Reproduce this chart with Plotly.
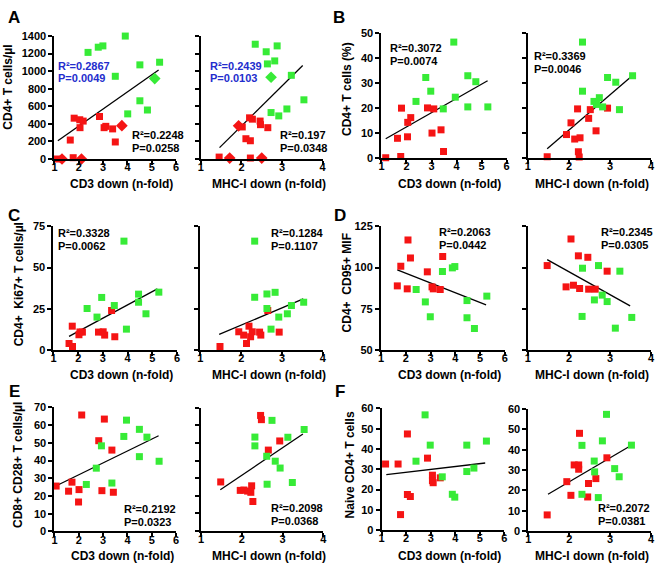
import plotly.graph_objects as go

W, H = 661, 571
FONT = "Liberation Sans, Arial, Helvetica, sans-serif"
RED = "rgb(245,20,20)"
GREEN = "rgb(55,235,55)"
BLUE = "rgb(35,45,205)"

# ---------------- Panel A : CD4+ T cells/ul ----------------
A1_green_x = [2.38, 2.80, 2.99, 3.91, 3.50, 4.51, 5.32, 4.51, 4.82, 4.01]
A1_green_y = [1214, 1273, 1288, 1400, 942, 1072, 1102, 663, 558, 514]
A1_greend_x = [5.12]
A1_greend_y = [916]
A1_red_x = [1.81, 2.04, 2.18, 2.05, 1.65, 2.85, 3.04, 3.11, 3.39, 3.50, 1.12, 1.77]
A1_red_y = [465, 447, 432, 357, 216, 484, 357, 372, 343, 194, 0, 15]
A1_redd_x = [3.77, 1.31, 2.11]
A1_redd_y = [380, 0, 0]
A1_fit_x = [1.14, 5.28]
A1_fit_y = [208, 1013]

A2_green_x = [2.36, 2.34, 2.61, 2.88, 2.64, 2.82, 3.23, 3.54, 3.12, 2.73, 2.92]
A2_green_y = [1415, 1307, 1221, 1288, 1083, 1117, 953, 674, 570, 529, 491]
A2_greend_x = [2.73]
A2_greend_y = [931]
A2_red_x = [2.20, 2.27, 2.46, 2.47, 2.65, 2.02, 2.11, 2.22, 1.45, 2.22]
A2_red_y = [469, 454, 432, 391, 357, 365, 231, 208, 22, 11]
A2_redd_x = [1.93, 1.71, 2.50]
A2_redd_y = [378, 11, 11]
A2_fit_x = [1.46, 3.51]
A2_fit_y = [130, 1065]

# ---------------- Panel B : CD4+ T cells (%) ----------------
B1_green_x = [2.38, 2.77, 2.97, 3.89, 3.47, 3.95, 4.45, 4.77, 4.45, 5.25]
B1_green_y = [22.6, 32.2, 26.7, 46.4, 19.6, 24.3, 32.9, 30.5, 20.4, 20.4]
B1_red_x = [1.80, 2.17, 2.05, 2.04, 1.64, 2.84, 3.09, 3.02, 3.38, 3.48, 1.17, 1.77]
B1_red_y = [19.9, 16.1, 14.2, 8.4, 7.8, 20.0, 19.6, 9.9, 11.2, 2.5, 0.0, 0.5]
B1_fit_x = [1.17, 5.24]
B1_fit_y = [7.6, 30.9]

B2_green_x = [2.33, 2.33, 2.61, 2.74, 2.67, 2.82, 2.94, 3.14, 3.55, 3.23]
B2_green_y = [46.4, 26.7, 22.6, 24.1, 21.4, 20.4, 32.2, 30.3, 32.9, 19.3]
B2_red_x = [2.21, 2.05, 1.94, 2.14, 2.27, 2.48, 2.52, 2.66, 2.94, 2.23, 2.25, 1.47]
B2_red_y = [19.6, 14.0, 9.3, 7.5, 8.0, 15.8, 19.3, 10.8, 19.9, 2.4, 0.3, 0.4]
B2_fit_x = [1.47, 3.52]
B2_fit_y = [3.6, 32.6]

# ---------------- Panel C : CD4+ Ki67+ T cells/ul ----------------
C1_green_x = [3.85, 2.36, 2.76, 2.95, 3.46, 4.44, 4.44, 5.26, 4.74, 3.95]
C1_green_y = [66.0, 25.2, 20.0, 31.9, 27.0, 33.9, 29.0, 35.1, 22.0, 12.7]
C1_red_x = [1.76, 1.63, 1.77, 2.07, 2.17, 2.03, 2.82, 3.01, 3.07, 3.35, 3.48]
C1_red_y = [14.5, 4.0, 2.2, 11.0, 10.9, 9.3, 10.9, 11.1, 9.1, 24.0, 8.1]
C1_fit_x = [1.63, 5.20]
C1_fit_y = [8.3, 37.1]

C2_green_x = [2.33, 2.33, 2.63, 2.83, 2.63, 3.23, 3.53, 3.13, 2.92, 2.73]
C2_green_y = [66.0, 32.0, 34.0, 35.0, 25.2, 27.0, 29.0, 22.0, 20.0, 12.7]
C2_red_x = [2.19, 1.94, 2.06, 2.23, 2.27, 2.45, 2.48, 2.65, 2.93, 2.13, 1.48]
C2_red_y = [14.5, 11.1, 9.1, 8.1, 11.1, 10.9, 9.1, 24.0, 10.9, 4.0, 2.2]
C2_fit_x = [1.46, 3.52]
C2_fit_y = [9.5, 31.0]

# ---------------- Panel D : CD4+ CD95+ MIF ----------------
D1_red_x = [2.09, 1.80, 2.19, 1.66, 2.06, 2.87, 3.06, 3.11, 3.39, 3.49]
D1_red_y = [116.7, 100.8, 105.8, 88.9, 87.1, 97.4, 88.3, 87.1, 86.7, 106.7]
D1_green_x = [2.42, 2.79, 2.99, 3.48, 3.88, 3.98, 4.47, 4.47, 4.77, 5.27]
D1_green_y = [86.7, 79.2, 70.2, 97.6, 99.8, 100.6, 80.0, 69.6, 63.1, 82.7]
D1_fit_x = [1.66, 5.24]
D1_fit_y = [98.6, 77.4]

D2_red_x = [2.05, 1.47, 2.23, 2.46, 1.93, 2.11, 2.26, 2.48, 2.64, 2.93]
D2_red_y = [117.3, 101.2, 107.1, 106.2, 88.3, 89.3, 87.3, 86.9, 86.9, 97.8]
D2_green_x = [2.33, 2.72, 3.24, 2.81, 2.62, 2.93, 2.32, 3.53, 3.13]
D2_green_y = [99.6, 101.2, 97.8, 83.3, 80.4, 79.4, 70.4, 69.8, 63.3]
D2_fit_x = [1.47, 3.49]
D2_fit_y = [104.8, 76.8]

# ---------------- Panel E : CD8+ CD28+ T cells/ul ----------------
E1_red_x = [2.12, 3.05, 2.82, 3.36, 1.07, 1.72, 1.58, 2.01, 1.99, 2.95, 3.42]
E1_red_y = [65.7, 63.4, 51.2, 45.9, 25.6, 27.8, 22.7, 23.6, 16.6, 23.0, 22.1]
E1_green_x = [3.96, 4.49, 4.80, 3.85, 2.93, 4.49, 5.30, 2.72, 2.31, 3.36]
E1_green_y = [62.8, 57.6, 53.2, 53.6, 48.3, 42.2, 39.6, 35.7, 26.5, 27.3]
E1_fit_x = [1.14, 5.28]
E1_fit_y = [26.2, 54.0]

E2_red_x = [2.46, 2.48, 2.93, 2.65, 1.48, 1.96, 2.05, 2.14, 2.24, 2.22, 2.27]
E2_red_y = [65.7, 63.3, 51.2, 46.0, 27.9, 23.1, 23.3, 22.7, 25.7, 22.0, 16.8]
E2_green_x = [2.74, 2.32, 2.32, 3.13, 3.53, 2.61, 2.82, 2.94, 2.62, 3.24]
E2_green_y = [62.9, 53.4, 48.4, 53.3, 57.7, 42.5, 39.7, 35.8, 26.6, 27.6]
E2_fit_x = [1.47, 3.50]
E2_fit_y = [23.5, 55.1]

# ---------------- Panel F : Naive CD4+ T cells ----------------
F1_red_x = [1.16, 1.67, 2.05, 2.05, 2.17, 1.77, 2.87, 3.07, 3.07, 3.10, 3.39]
F1_red_y = [32.6, 32.6, 47.4, 17.6, 16.6, 7.7, 35.5, 27.1, 24.4, 23.4, 25.8]
F1_green_x = [2.77, 2.98, 2.40, 3.47, 3.88, 3.98, 4.47, 4.47, 4.76, 5.27]
F1_green_y = [56.8, 41.9, 34.0, 26.3, 17.7, 16.3, 41.9, 28.9, 30.6, 43.9]
F1_fit_x = [1.19, 5.22]
F1_fit_y = [27.4, 33.1]

F2_red_x = [1.46, 1.94, 2.04, 2.25, 2.12, 2.23, 2.23, 2.47, 2.45, 2.65, 2.92]
F2_red_y = [8.0, 24.3, 17.6, 48.0, 32.5, 32.5, 30.4, 23.4, 16.8, 25.8, 36.0]
F2_green_x = [2.91, 2.81, 2.31, 3.52, 2.61, 2.62, 3.11, 3.22, 2.31, 2.71]
F2_green_y = [57.3, 44.3, 42.1, 42.2, 34.4, 29.1, 30.7, 26.7, 18.1, 16.5]
F2_fit_x = [1.48, 3.50]
F2_fit_y = [18.1, 41.9]

# tick values
X_TICKS_CD3 = [1, 2, 3, 4, 5, 6]
X_TICKS_MHC = [1, 2, 3, 4]
Y_TICKS_A = [0, 200, 400, 600, 800, 1000, 1200, 1400]
Y_TICKS_B = [0, 10, 20, 30, 40, 50]
Y_TICKS_C = [0, 25, 50, 75]
Y_TICKS_D = [50, 75, 100, 125]
Y_TICKS_E = [0, 10, 20, 30, 40, 50, 60, 70]
Y_TICKS_F = [0, 10, 20, 30, 40, 50, 60]

# Y axis titles, x axis titles, panel letters
Y_TITLES = ["CD4+ T cells/\u00b5l", "CD4+ T cells (%)", "CD4+\u00a0\u00a0Ki67+ T cells/\u00b5l",
            "CD4+\u00a0\u00a0CD95+ MIF", "CD8+ CD28+ T cells/\u00b5l", "Naive CD4+ T cells"]
X_TITLE_CD3 = "CD3 down (n-fold)"
X_TITLE_MHC = "MHC-I down (n-fold)"
PANEL_LETTERS = ["A", "B", "C", "D", "E", "F"]

# statistics text
STATS = [
    ("A1", "0.2867", "0.0049", "blue"), ("A1", "0.2248", "0.0258", "black"),
    ("A2", "0.2439", "0.0103", "blue"), ("A2", "0.197", "0.0348", "black"),
    ("B1", "0.3072", "0.0074", "black"), ("B2", "0.3369", "0.0046", "black"),
    ("C1", "0.3328", "0.0062", "black"), ("C2", "0.1284", "0.1107", "black"),
    ("D1", "0.2063", "0.0442", "black"), ("D2", "0.2345", "0.0305", "black"),
    ("E1", "0.2192", "0.0323", "black"), ("E2", "0.2098", "0.0368", "black"),
    ("F2", "0.2072", "0.0381", "black"),
]
# ---------------------------------------------------------------

# layout (pixels): x pixel of xr[0], x pixel of xr[1], y pixel of yr[0], y pixel of yr[1]
SUB = {
    "A1": dict(xp=(52, 175), xr=[1, 6], yp=(156.3, 30.7), yr=[0, 1400], yt=Y_TICKS_A, lab=True, xt=X_TICKS_CD3),
    "A2": dict(xp=(200, 323), xr=[1, 4], yp=(156.3, 30.7), yr=[0, 1400], yt=Y_TICKS_A, lab=False, xt=X_TICKS_MHC),
    "B1": dict(xp=(382.5, 509), xr=[1, 6], yp=(155, 27.7), yr=[0, 50], yt=Y_TICKS_B, lab=True, xt=X_TICKS_CD3),
    "B2": dict(xp=(530.5, 655), xr=[1, 4], yp=(155, 27.7), yr=[0, 50], yt=Y_TICKS_B, lab=False, xt=X_TICKS_MHC),
    "C1": dict(xp=(51, 176), xr=[1, 6], yp=(351.5, 225), yr=[0, 75], yt=Y_TICKS_C, lab=True, xt=X_TICKS_CD3),
    "C2": dict(xp=(199.5, 323.3), xr=[1, 4], yp=(351.5, 225), yr=[0, 75], yt=Y_TICKS_C, lab=False, xt=X_TICKS_MHC),
    "D1": dict(xp=(382, 507.3), xr=[1, 6], yp=(351.5, 225), yr=[50, 125], yt=Y_TICKS_D, lab=True, xt=X_TICKS_CD3),
    "D2": dict(xp=(530.5, 655), xr=[1, 4], yp=(351.5, 225), yr=[50, 125], yt=Y_TICKS_D, lab=False, xt=X_TICKS_MHC),
    "E1": dict(xp=(52, 175), xr=[1, 6], yp=(536.7, 410), yr=[0, 70], yt=Y_TICKS_E, lab=True, xt=X_TICKS_CD3),
    "E2": dict(xp=(200.3, 323.7), xr=[1, 4], yp=(536.3, 410.5), yr=[0, 70], yt=Y_TICKS_E, lab=False, xt=X_TICKS_MHC),
    "F1": dict(xp=(382.7, 506.7), xr=[1, 6], yp=(535.5, 411), yr=[0, 60], yt=Y_TICKS_F, lab=True, xt=X_TICKS_CD3),
    "F2": dict(xp=(531, 655), xr=[1, 4], yp=(536.5, 411.5), yr=[0, 60], yt=Y_TICKS_F, lab=True, xt=X_TICKS_MHC),
}

SERIES = {
    "A1": dict(gx=A1_green_x, gy=A1_green_y, rx=A1_red_x, ry=A1_red_y, gdx=A1_greend_x, gdy=A1_greend_y,
               rdx=A1_redd_x, rdy=A1_redd_y, fx=A1_fit_x, fy=A1_fit_y),
    "A2": dict(gx=A2_green_x, gy=A2_green_y, rx=A2_red_x, ry=A2_red_y, gdx=A2_greend_x, gdy=A2_greend_y,
               rdx=A2_redd_x, rdy=A2_redd_y, fx=A2_fit_x, fy=A2_fit_y),
    "B1": dict(gx=B1_green_x, gy=B1_green_y, rx=B1_red_x, ry=B1_red_y, fx=B1_fit_x, fy=B1_fit_y),
    "B2": dict(gx=B2_green_x, gy=B2_green_y, rx=B2_red_x, ry=B2_red_y, fx=B2_fit_x, fy=B2_fit_y),
    "C1": dict(gx=C1_green_x, gy=C1_green_y, rx=C1_red_x, ry=C1_red_y, fx=C1_fit_x, fy=C1_fit_y),
    "C2": dict(gx=C2_green_x, gy=C2_green_y, rx=C2_red_x, ry=C2_red_y, fx=C2_fit_x, fy=C2_fit_y),
    "D1": dict(gx=D1_green_x, gy=D1_green_y, rx=D1_red_x, ry=D1_red_y, fx=D1_fit_x, fy=D1_fit_y),
    "D2": dict(gx=D2_green_x, gy=D2_green_y, rx=D2_red_x, ry=D2_red_y, fx=D2_fit_x, fy=D2_fit_y),
    "E1": dict(gx=E1_green_x, gy=E1_green_y, rx=E1_red_x, ry=E1_red_y, fx=E1_fit_x, fy=E1_fit_y),
    "E2": dict(gx=E2_green_x, gy=E2_green_y, rx=E2_red_x, ry=E2_red_y, fx=E2_fit_x, fy=E2_fit_y),
    "F1": dict(gx=F1_green_x, gy=F1_green_y, rx=F1_red_x, ry=F1_red_y, fx=F1_fit_x, fy=F1_fit_y),
    "F2": dict(gx=F2_green_x, gy=F2_green_y, rx=F2_red_x, ry=F2_red_y, fx=F2_fit_x, fy=F2_fit_y),
}

# text positions in pixels (left x, centre y of R2 line, centre y of P line)
STAT_POS = [
    (55, 61, 74), (129, 132, 145),
    (208.5, 61, 74), (278.5, 132, 145),
    (390, 43, 56), (536, 51, 64),
    (55, 232, 245), (270, 232, 245),
    (440, 231, 244), (603, 231, 244),
    (121, 514, 527), (270, 513, 526),
    (600, 513, 526),
]
YT_POS = [(5.5, 83), (347.5, 85), (16, 284.5), (347.5, 282.5), (15, 469), (351, 469)]
XT_POS = [(120, 181.5, 269, 181.5), (451, 181.5, 595, 181.5),
          (120, 377, 269, 377), (451, 377, 595, 377),
          (120.5, 561.5, 269, 561.5), (451, 561.5, 595, 561.5)]
LETTER_POS = [(3, 0), (332, 0), (3, 202), (333, 202), (4, 382), (334, 382)]


def px2fx(p):
    return p / W


def px2fy(p):
    return 1 - p / H


fig = go.Figure()
layout = dict(width=W, height=H, margin=dict(l=0, r=0, t=0, b=0, pad=0),
              paper_bgcolor="white", plot_bgcolor="white", showlegend=False,
              font=dict(family=FONT, color="black"))

for i, key in enumerate(SUB):
    n = i + 1
    s = SUB[key]
    xa = "x" if n == 1 else f"x{n}"
    ya = "y" if n == 1 else f"y{n}"
    xname = "xaxis" if n == 1 else f"xaxis{n}"
    yname = "yaxis" if n == 1 else f"yaxis{n}"
    layout[xname] = dict(domain=[px2fx(s["xp"][0]), px2fx(s["xp"][1])], range=s["xr"], anchor=ya,
                         showline=True, linewidth=2, linecolor="black", ticks="outside", ticklen=4,
                         tickwidth=2, tickcolor="black", tickvals=s["xt"], showgrid=False, zeroline=False,
                         ticklabelstandoff=-7,
                         tickfont=dict(family=FONT, size=11, color="black", weight="bold"))
    layout[yname] = dict(domain=[px2fy(s["yp"][0]), px2fy(s["yp"][1])], range=s["yr"], anchor=xa,
                         showline=True, linewidth=2, linecolor="black", ticks="outside", ticklen=4,
                         tickwidth=2, tickcolor="black", tickvals=s["yt"], showgrid=False, zeroline=False,
                         showticklabels=s["lab"],
                         tickfont=dict(family=FONT, size=11, color="black", weight="bold"))
    d = SERIES[key]
    fig.add_trace(go.Scatter(x=d["fx"], y=d["fy"], mode="lines", xaxis=xa, yaxis=ya,
                             line=dict(color="black", width=1.3), hoverinfo="skip"))
    fig.add_trace(go.Scatter(x=d["rx"], y=d["ry"], mode="markers", xaxis=xa, yaxis=ya, cliponaxis=False,
                             marker=dict(symbol="square", size=7, color=RED, line=dict(width=0))))
    fig.add_trace(go.Scatter(x=d["gx"], y=d["gy"], mode="markers", xaxis=xa, yaxis=ya, cliponaxis=False,
                             marker=dict(symbol="square", size=7, color=GREEN, line=dict(width=0))))
    if "rdx" in d:
        fig.add_trace(go.Scatter(x=d["rdx"], y=d["rdy"], mode="markers", xaxis=xa, yaxis=ya, cliponaxis=False,
                                 marker=dict(symbol="diamond", size=9, color=RED, line=dict(width=0))))
        fig.add_trace(go.Scatter(x=d["gdx"], y=d["gdy"], mode="markers", xaxis=xa, yaxis=ya, cliponaxis=False,
                                 marker=dict(symbol="diamond", size=9, color=GREEN, line=dict(width=0))))

ann = []
for (key, r2, p, col), (lx, y1, y2) in zip(STATS, STAT_POS):
    c = BLUE if col == "blue" else "black"
    for txt, yy in (("R\u00b2=" + r2, y1), ("P=" + p, y2)):
        ann.append(dict(text=txt, x=px2fx(lx), y=px2fy(yy), xref="paper", yref="paper",
                        xanchor="left", yanchor="middle", showarrow=False, borderpad=0,
                        font=dict(family=FONT, size=11, color=c, weight="bold")))

for t, (xx, yy) in zip(Y_TITLES, YT_POS):
    ann.append(dict(text=t, x=px2fx(xx), y=px2fy(yy), xref="paper", yref="paper", textangle=-90,
                    xanchor="center", yanchor="middle", showarrow=False,
                    font=dict(family=FONT, size=12, color="black", weight="bold")))

for (x1, y1, x2, y2) in XT_POS:
    for t, xx, yy in ((X_TITLE_CD3, x1, y1), (X_TITLE_MHC, x2, y2)):
        ann.append(dict(text=t, x=px2fx(xx), y=px2fy(yy), xref="paper", yref="paper",
                        xanchor="center", yanchor="middle", showarrow=False,
                        font=dict(family=FONT, size=12, color="black", weight="bold")))

for t, (xx, yy) in zip(PANEL_LETTERS, LETTER_POS):
    ann.append(dict(text=t, x=px2fx(xx), y=px2fy(yy), xref="paper", yref="paper",
                    xanchor="left", yanchor="top", showarrow=False,
                    font=dict(family=FONT, size=17, color="black", weight="bold")))

layout["annotations"] = ann
fig.update_layout(**layout)
fig.write_html("out.html", config={"displayModeBar": False},
               post_script="document.body.style.margin='0';document.body.style.padding='0';"
                           "document.body.style.overflow='hidden';")
